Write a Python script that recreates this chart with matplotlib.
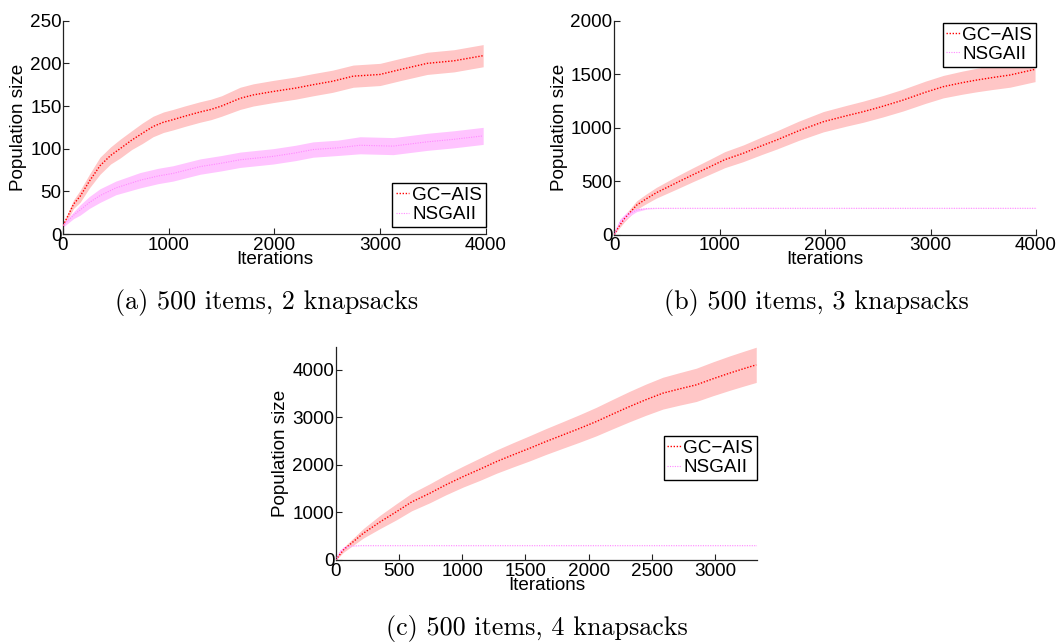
import numpy as np
import matplotlib
matplotlib.use("Agg")
import matplotlib.pyplot as plt

# ---------------- data ----------------
# (a) 500 items, 2 knapsacks
a_gc_x = [0, 50, 100, 161, 250, 350, 450, 540, 650, 750, 852, 950, 1041, 1150, 1297, 1400, 1500,
          1676, 1800, 1988, 2200, 2367, 2550, 2746, 3000, 3200, 3446, 3700, 3976]
a_gc_mean = [10, 22, 35, 44, 62, 80, 92, 100, 110, 118, 126, 131, 134, 138, 143, 146, 150,
             159, 163, 167, 171, 175, 179, 185, 187, 193, 200, 203, 209]
a_gc_half = [2, 4, 5, 7, 8, 10, 10, 11, 11, 12, 12, 12, 12, 12, 12, 12, 12,
             13, 13, 13, 13, 13, 13, 13, 13, 13, 13, 13, 13]
a_ns_x = [0, 50, 100, 161, 250, 350, 500, 729, 900, 1041, 1297, 1500, 1676, 1988, 2200, 2367,
          2600, 2811, 3124, 3446, 3700, 3976]
a_ns_mean = [10, 16, 22, 28, 37, 45, 54, 63, 68, 71, 79, 83, 87, 91, 95, 99,
             101, 104, 103, 108, 111, 115]
a_ns_half = [2, 3, 4, 6, 7, 8, 8, 9, 9, 9, 9, 9, 9, 9, 9, 9,
             9, 10, 10, 10, 10, 10]

# (b) 500 items, 3 knapsacks
b_gc_x = [0, 50, 100, 215, 300, 400, 594, 750, 910, 1050, 1226, 1400, 1542, 1750, 1984, 2200,
          2363, 2550, 2742, 2950, 3121, 3300, 3438, 3600, 3754, 3991]
b_gc_mean = [0, 80, 150, 275, 330, 390, 485, 560, 634, 700, 760, 830, 884, 970, 1055, 1110,
             1149, 1200, 1258, 1330, 1383, 1420, 1445, 1470, 1492, 1545]
b_gc_half = [5, 20, 30, 40, 45, 50, 60, 65, 70, 75, 78, 82, 85, 90, 95, 97,
             99, 100, 102, 104, 105, 108, 110, 112, 114, 115]
b_ns_x = [0, 57, 120, 215, 310, 400, 600, 4000]
b_ns_mean = [0, 120, 182, 229, 243, 245, 245, 245]
b_ns_half = [5, 25, 25, 15, 5, 2, 1, 1]

# (c) 500 items, 4 knapsacks
c_gc_x = [0, 60, 218, 350, 481, 600, 744, 870, 1007, 1140, 1271, 1400, 1534, 1660, 1797, 1930,
          2060, 2190, 2323, 2450, 2586, 2720, 2850, 2980, 3113, 3220, 3324]
c_gc_mean = [0, 210, 561, 800, 1017, 1220, 1404, 1580, 1754, 1910, 2070, 2210, 2351, 2490, 2632, 2770,
             2912, 3070, 3228, 3370, 3509, 3600, 3684, 3810, 3930, 4020, 4105]
c_gc_half = [10, 50, 100, 140, 170, 185, 200, 210, 220, 235, 245, 255, 265, 272, 280, 290,
             300, 310, 320, 328, 335, 342, 350, 356, 362, 366, 370]
c_ns_x = [0, 34, 70, 113, 200, 3330]
c_ns_mean = [0, 175, 260, 295, 302, 302]
c_ns_half = [5, 30, 20, 5, 1, 1]

series_labels = ["GC\u2212AIS", "NSGAII"]
captions = ["(a) 500 items, 2 knapsacks", "(b) 500 items, 3 knapsacks", "(c) 500 items, 4 knapsacks"]

# ---------------- styling ----------------
plt.rcParams['font.family'] = ['Liberation Sans', 'DejaVu Sans']
FS = 13.6
GC_LINE = '#ff0000'
GC_FILL = '#ffc6c6'
NS_LINE = '#ff88ff'
NS_FILL = '#ffc4ff'

fig = plt.figure(figsize=(10.59, 6.43), dpi=100)

panels = [
    dict(rect=[63/1059, 1-234/643, 422.7/1059, 213.3/643],
         gc=(a_gc_x, a_gc_mean, a_gc_half), ns=(a_ns_x, a_ns_mean, a_ns_half),
         xlim=(0, 4000), ylim=(0, 250), xticks=[0, 1000, 2000, 3000, 4000],
         yticks=[0, 50, 100, 150, 200, 250],
         leg=dict(loc='lower right', bbox_to_anchor=(1.0, 7/213))),
    dict(rect=[614/1059, 1-234.5/643, 422/1059, 213.8/643],
         gc=(b_gc_x, b_gc_mean, b_gc_half), ns=(b_ns_x, b_ns_mean, b_ns_half),
         xlim=(0, 4000), ylim=(0, 2000), xticks=[0, 1000, 2000, 3000, 4000],
         yticks=[0, 500, 1000, 1500, 2000],
         leg=dict(loc='upper right', bbox_to_anchor=(1.0, 1 - 2/214))),
    dict(rect=[335.7/1059, 1-560/643, 421.3/1059, 213/643],
         gc=(c_gc_x, c_gc_mean, c_gc_half), ns=(c_ns_x, c_ns_mean, c_ns_half),
         xlim=(0, 3330), ylim=(0, 4480), xticks=[0, 500, 1000, 1500, 2000, 2500, 3000],
         yticks=[0, 1000, 2000, 3000, 4000],
         leg=dict(loc='center right', bbox_to_anchor=(1.0, 0.479))),
]

for p in panels:
    ax = fig.add_axes(p['rect'])
    gx, gm, gh = [np.asarray(v, float) for v in p['gc']]
    nx, nm, nh = [np.asarray(v, float) for v in p['ns']]
    ax.fill_between(gx, gm - gh, gm + gh, color=GC_FILL, lw=0, zorder=1)
    ax.fill_between(nx, nm - nh, nm + nh, color=NS_FILL, lw=0, zorder=2)
    l1, = ax.plot(gx, gm, color=GC_LINE, ls=(0, (1, 1.2)), lw=1.0, zorder=3, label=series_labels[0])
    l2, = ax.plot(nx, nm, color=NS_LINE, ls=(0, (1, 1.2)), lw=0.8, zorder=4, label=series_labels[1])
    ax.set_xlim(*p['xlim'])
    ax.set_ylim(*p['ylim'])
    ax.set_xticks(p['xticks'])
    ax.set_yticks(p['yticks'])
    for s in ['top', 'right']:
        ax.spines[s].set_visible(False)
    for s in ['left', 'bottom']:
        ax.spines[s].set_linewidth(0.9)
        ax.spines[s].set_color('#222222')
    ax.tick_params(direction='in', length=4, width=0.8, labelsize=FS, pad=2, color='#222222')
    ax.tick_params(axis='y', pad=1)
    ax.set_xlabel('Iterations', fontsize=FS, labelpad=-2)
    ax.set_ylabel('Population size', fontsize=FS, labelpad=2)
    leg = ax.legend(handles=[l1, l2], fontsize=FS, frameon=True, fancybox=False,
                    edgecolor='black', framealpha=1, borderaxespad=0, handlelength=0.7,
                    handletextpad=0.15, labelspacing=0.1, borderpad=0.2, **p['leg'])
    leg.get_frame().set_linewidth(1.0)

cap_y = [1-302/643, 1-302/643, 1-628/643]
cap_x = [267/1059, 816/1059, 537/1059]
for cx, cy, t in zip(cap_x, cap_y, captions):
    fig.text(cx, cy, t, ha='center', va='center', fontsize=18.8, family='cmr10')

fig.savefig('out.png', dpi=100)
